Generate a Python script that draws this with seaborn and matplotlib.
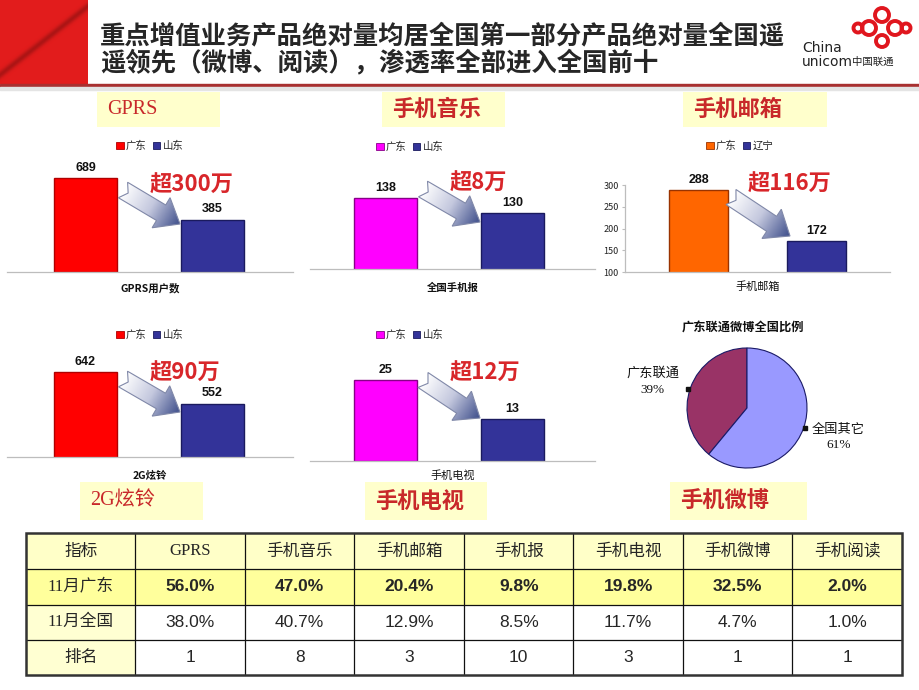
import numpy as np
import matplotlib
matplotlib.use("Agg")
import matplotlib.pyplot as plt
import seaborn as sns
from matplotlib.patches import Rectangle, Polygon, Circle, Patch
from matplotlib.colors import LinearSegmentedColormap

sns.set_style("white")
plt.rcParams['font.family'] = ['Noto Sans CJK SC', 'DejaVu Sans']
plt.rcParams['axes.unicode_minus'] = False

W, H = 920, 690

# ---------------- data ----------------
title_lines = ["重点增值业务产品绝对量均居全国第一部分产品绝对量全国遥",
               "遥领先（微博、阅读），渗透率全部进入全国前十"]

gprs_regions = ["广东", "山东"]
gprs_values = [689, 385]
music_regions = ["广东", "山东"]
music_values = [138, 130]
mail_regions = ["广东", "辽宁"]
mail_values = [288, 172]
ring_regions = ["广东", "山东"]
ring_values = [642, 552]
tv_regions = ["广东", "山东"]
tv_values = [25, 13]
weibo_labels = ["广东联通", "全国其它"]
weibo_shares = [39, 61]
mail_yticks = [100, 150, 200, 250, 300]

panel_titles = ["GPRS", "手机音乐", "手机邮箱", "2G炫铃", "手机电视", "手机微博"]
panel_xlabels = ["GPRS用户数", "全国手机报", "手机邮箱", "2G炫铃", "手机电视"]
gap_notes = ["超300万", "超8万", "超116万", "超90万", "超12万"]
pie_title = "广东联通微博全国比例"

table_header = ["指标", "GPRS", "手机音乐", "手机邮箱", "手机报", "手机电视", "手机微博", "手机阅读"]
row_gd = ["11月广东", "56.0%", "47.0%", "20.4%", "9.8%", "19.8%", "32.5%", "2.0%"]
row_cn = ["11月全国", "38.0%", "40.7%", "12.9%", "8.5%", "11.7%", "4.7%", "1.0%"]
row_rank = ["排名", "1", "8", "3", "10", "3", "1", "1"]

CJK = ['Noto Sans CJK SC', 'DejaVu Sans']
SERIF = ['Liberation Serif', 'Noto Sans CJK SC']
SANS = ['Liberation Sans', 'Noto Sans CJK SC']
RED_TXT = '#C8282A'


def px_rect(x0, y0, x1, y1):
    return [x0 / W, 1 - y1 / H, (x1 - x0) / W, (y1 - y0) / H]


fig = plt.figure(figsize=(9.2, 6.9), dpi=100)
bg = fig.add_axes([0, 0, 1, 1])
bg.axis('off')
bg.set_zorder(0)

# ---------------- header ----------------
hh, ww = 84, 88
yy, xx = np.mgrid[0:hh, 0:ww]
d1 = np.abs(yy - (74 - 0.78 * xx))
streak = np.exp(-(d1 / 4.0) ** 2) * 0.35
img = np.zeros((hh, ww, 3))
img[..., 0] = 0.89 - streak * 0.6
img[..., 1] = 0.11 - streak * 0.08
img[..., 2] = 0.11 - streak * 0.08
bg.imshow(np.clip(img, 0, 1), extent=(0, ww, hh, 0), aspect='auto', zorder=1)
bg.add_patch(Rectangle((0, 84), W, 2.5, color='#A83030', zorder=2))
bg.add_patch(Rectangle((0, 86.5), W, 3, color='#E4E4E4', zorder=2))

bg.text(100, 36, title_lines[0], fontsize=18.3, fontweight='bold', va='center', ha='left', family=CJK)
bg.text(100, 63, title_lines[1], fontsize=18.3, fontweight='bold', va='center', ha='left', family=CJK)

# logo
for (cx, cy, r) in [(882, 15, 7), (869, 28, 7), (895, 28, 7), (882, 41, 6),
                    (858, 28, 4.5), (906, 28, 4.5)]:
    bg.add_patch(Circle((cx, cy), r, fill=False, edgecolor='#E0161E', lw=2.8, zorder=3))
bg.text(802, 48, "China", fontsize=10, color='#222222', family=['DejaVu Sans'], va='center', ha='left')
bg.text(802, 62, "unicom", fontsize=10, color='#222222', family=['DejaVu Sans'], va='center', ha='left')
bg.text(852, 62, "中国联通", fontsize=7.5, color='#222222', family=CJK, va='center', ha='left')

# ---------------- title boxes ----------------
title_boxes = [(97, 92, 220, 127), (382, 92, 505, 127), (683, 92, 827, 127),
               (80, 482, 203, 520), (365, 482, 487, 520), (670, 482, 807, 520)]
for t, (x0, y0, x1, y1) in zip(panel_titles, title_boxes):
    bg.add_patch(Rectangle((x0, y0), x1 - x0, y1 - y0, facecolor='#FFFFCC', edgecolor='none', zorder=1))
    if t in ("GPRS", "2G炫铃"):
        bg.text(x0 + 10, (y0 + y1) / 2, t, fontsize=14.5, color=RED_TXT, family=SERIF,
                va='center', ha='left')
    else:
        bg.text(x0 + 10, (y0 + y1) / 2, t, fontsize=16, fontweight='bold', color=RED_TXT,
                family=CJK, va='center', ha='left')

# ---------------- bar panels ----------------
panels = [
    dict(regions=gprs_regions, values=gprs_values, colors=['#FF0000', '#333399'],
         edges=['#B00000', '#1A1A5E'], rect=(7, 163, 293, 272), ylim=(0, 800),
         xlim=(-0.618, 1.634), legend=(150, 146), xl_bold=True, pad=8,
         note_xy=(150, 185), arrow=((123, 190), (180, 224)), yaxis=False),
    dict(regions=music_regions, values=music_values, colors=['#FF00FF', '#333399'],
         edges=['#880088', '#1A1A5E'], rect=(310, 156.5, 595, 269), ylim=(100, 160),
         xlim=(-0.594, 1.650), legend=(410, 147), xl_bold=True, pad=10,
         note_xy=(450, 183), arrow=((423, 189), (480, 222)), yaxis=False),
    dict(regions=mail_regions, values=mail_values, colors=['#FF6600', '#333399'],
         edges=['#993300', '#1A1A5E'], rect=(625, 185, 890, 272), ylim=(100, 300),
         xlim=(-0.623, 1.623), legend=(740, 146), xl_bold=False, pad=7,
         note_xy=(748, 184), arrow=((731, 197), (790, 236)), yaxis=True),
    dict(regions=ring_regions, values=ring_values, colors=['#FF0000', '#333399'],
         edges=['#B00000', '#1A1A5E'], rect=(7, 351.7, 293, 457), ylim=(400, 700),
         xlim=(-0.618, 1.634), legend=(150, 335), xl_bold=True, pad=10,
         note_xy=(150, 373), arrow=((123, 379), (180, 412)), yaxis=False),
    dict(regions=tv_regions, values=tv_values, colors=['#FF00FF', '#333399'],
         edges=['#880088', '#1A1A5E'], rect=(310, 357.3, 595, 461), ylim=(0, 32),
         xlim=(-0.594, 1.650), legend=(410, 335), xl_bold=False, pad=7,
         note_xy=(450, 373), arrow=((423, 380), (480, 418)), yaxis=False),
]

top = fig.add_axes([0, 0, 1, 1])
top.set_zorder(10)
top.patch.set_alpha(0)
top.axis('off')

arrow_cmap = LinearSegmentedColormap.from_list('arr', ['#FFFFFF', '#C4C8DE', '#40508C'])


def gradient_arrow(ax, tail, tip, shaft=18, head_w=35, head_len=22):
    tail = np.array(tail, float)
    tip = np.array(tip, float)
    d = tip - tail
    L = np.hypot(*d)
    u = d / L
    n = np.array([-u[1], u[0]])
    neck = tip - u * head_len
    pts = [tail + n * shaft / 2, neck + n * shaft / 2, neck + n * head_w / 2, tip,
           neck - n * head_w / 2, neck - n * shaft / 2, tail - n * shaft / 2, tail + u * 6]
    pts = np.array(pts)
    poly = Polygon(pts, closed=True, facecolor='none', edgecolor='#8088A8', lw=0.8, zorder=4)
    ax.add_patch(poly)
    x0, y0 = pts.min(axis=0) - 1
    x1, y1 = pts.max(axis=0) + 1
    gx, gy = np.meshgrid(np.linspace(x0, x1, 80), np.linspace(y0, y1, 80))
    t = np.clip(((gx - tail[0]) * u[0] + (gy - tail[1]) * u[1]) / L, 0, 1)
    im = ax.imshow(t, extent=(x0, x1, y1, y0), cmap=arrow_cmap, vmin=0, vmax=1,
                   aspect='auto', zorder=3, interpolation='bilinear')
    im.set_clip_path(poly)


for i, p in enumerate(panels):
    ax = fig.add_axes(px_rect(*p['rect']))
    ax.set_zorder(2)
    ax.patch.set_alpha(0)
    sns.barplot(x=p['regions'], y=p['values'], hue=p['regions'], palette=p['colors'],
                width=0.5, ax=ax, legend=False, saturation=1)
    for bar, ec in zip(ax.patches, p['edges']):
        bar.set_edgecolor(ec)
        bar.set_linewidth(1.0)
    ax.set_ylim(*p['ylim'])
    ax.set_xlim(*p['xlim'])
    for c in ax.containers:
        ax.bar_label(c, fmt='%d', padding=3, fontsize=9, fontweight='bold',
                     color='#111111', family=SANS)
    ax.set_xticks([])
    for s in ['top', 'right']:
        ax.spines[s].set_visible(False)
    ax.spines['bottom'].set_color('#BDBDBD')
    ax.spines['bottom'].set_linewidth(0.9)
    if p['yaxis']:
        ax.spines['left'].set_color('#BDBDBD')
        ax.spines['left'].set_linewidth(0.9)
        ax.set_yticks(mail_yticks)
        ax.tick_params(axis='y', labelsize=6.5, length=2.5, color='#BDBDBD', pad=2,
                       labelcolor='#222222', left=True)
    else:
        ax.spines['left'].set_visible(False)
        ax.set_yticks([])
    ax.set_ylabel('')
    ax.set_xlabel(panel_xlabels[i], fontsize=8 if not p['xl_bold'] else 7.5,
                  fontweight='bold' if p['xl_bold'] else 'normal', labelpad=p['pad'],
                  family=CJK if p['xl_bold'] else SERIF, color='#111111')
    handles = [Patch(facecolor=c, edgecolor=e, lw=0.6) for c, e in zip(p['colors'], p['edges'])]
    lx, ly = p['legend']
    ax.legend(handles, p['regions'], loc='center', bbox_to_anchor=(lx / W, 1 - ly / H),
              bbox_transform=fig.transFigure, ncol=2, frameon=False,
              prop=dict(family=SERIF, size=7.5), handlelength=0.7, handleheight=0.7,
              handletextpad=0.25, columnspacing=0.6, borderaxespad=0)
    nx, ny = p['note_xy']
    top.text(nx, ny, gap_notes[i], fontsize=16, fontweight='bold', color='#D8262A',
             family=CJK, va='center', ha='left', zorder=6)
    gradient_arrow(top, *p['arrow'])

# ---------------- pie ----------------
pax = fig.add_axes(px_rect(687, 348, 807, 468))
pax.set_zorder(2)
wedges, _ = pax.pie(weibo_shares, colors=['#993366', '#9999FF'], startangle=90,
                    counterclock=True, wedgeprops=dict(edgecolor='#1A1A66', linewidth=0.8))
for w_ in wedges:
    w_.set_clip_on(False)
pax.set_xlim(-1, 1)
pax.set_ylim(-1, 1)
pax.set_aspect('equal')
pax.text(-1.57, 0.44, f"{weibo_labels[0]}\n{weibo_shares[0]}%", ha='center', va='center',
         fontsize=9.5, family=SERIF, linespacing=1.4, color='#111111')
pax.text(1.52, -0.49, f"{weibo_labels[1]}\n{weibo_shares[1]}%", ha='center', va='center',
         fontsize=9.5, family=SERIF, linespacing=1.4, color='#111111')
pax.plot([-0.98], [0.32], marker='s', ms=2.2, color='#111111', clip_on=False)
pax.plot([0.97], [-0.33], marker='s', ms=2.2, color='#111111', clip_on=False)
bg.text(743, 328, pie_title, fontsize=8.8, fontweight='bold', ha='center', va='center',
        family=CJK, color='#111111')

# ---------------- table ----------------
x_edges = np.linspace(26, 902, 9)
y_edges = [533, 569, 604.5, 640, 675]
rows = [table_header, row_gd, row_cn, row_rank]
for r, row in enumerate(rows):
    ya, yb = y_edges[r], y_edges[r + 1]
    for c, val in enumerate(row):
        xa, xb = x_edges[c], x_edges[c + 1]
        if r == 0:
            fc = '#FFFFC8'
        elif r == 1:
            fc = '#FFFF9C'
        elif c == 0:
            fc = '#FFFFD2'
        else:
            fc = '#FFFFFF'
        bg.add_patch(Rectangle((xa, ya), xb - xa, yb - ya, facecolor=fc, edgecolor='none', zorder=1))
        cx, cy = (xa + xb) / 2, (ya + yb) / 2
        if r == 0:
            fam = SERIF if val == "GPRS" else CJK
            bg.text(cx, cy, val, ha='center', va='center', fontsize=12, family=fam, zorder=3)
        elif c == 0:
            bg.text(cx, cy, val, ha='center', va='center', fontsize=12, family=SERIF, zorder=3)
        else:
            bg.text(cx, cy, val, ha='center', va='center', fontsize=12.5, family=SANS,
                    fontweight='bold' if r == 1 else 'normal', zorder=3)
for xe in x_edges[1:-1]:
    bg.plot([xe, xe], [y_edges[0], y_edges[-1]], color='#111111', lw=0.9, zorder=4)
for ye in y_edges[1:-1]:
    bg.plot([x_edges[0], x_edges[-1]], [ye, ye], color='#111111', lw=0.9, zorder=4)
bg.add_patch(Rectangle((x_edges[0], y_edges[0]), x_edges[-1] - x_edges[0], y_edges[-1] - y_edges[0],
                       fill=False, edgecolor='#333333', lw=1.8, zorder=5))

for a in (bg, top):
    a.set_xlim(0, W)
    a.set_ylim(H, 0)
    a.set_aspect('auto')

fig.savefig("out.png", dpi=100)
